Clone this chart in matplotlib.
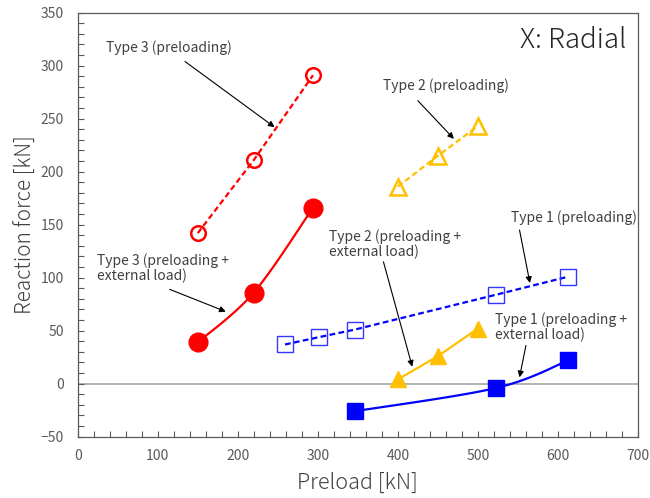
import numpy as np
import matplotlib
matplotlib.use("Agg")
import matplotlib.pyplot as plt
from matplotlib.ticker import MultipleLocator

plt.rcParams['font.family'] = ['Noto Sans CJK JP', 'DejaVu Sans']

# Type 3
t3_x = [150, 220, 294]
t3_pre = [142, 211, 291]
t3_ext_x = [150, 220, 294]
t3_ext = [39, 86, 166]

# Type 2
t2_x = [400, 450, 500]
t2_pre = [186, 215, 243]
t2_ext = [4, 26, 52]

# Type 1
t1_pre_x = [259, 302, 346, 523, 613]
t1_pre = [37, 44, 51, 84, 101]
t1_ext_x = [346, 523, 613]
t1_ext = [-26, -4, 22]

RED = "#FF0000"
GOLD = "#FFC000"
BLUE = "#0000FF"
TXT = "#404040"


def smooth(xs, ys, n=40):
    """Catmull-Rom style Bezier smoothing through the given points."""
    p = np.column_stack([xs, ys]).astype(float)
    pts = [p[0]]
    for i in range(len(p) - 1):
        p0 = p[i - 1] if i > 0 else p[i]
        p1, p2 = p[i], p[i + 1]
        p3 = p[i + 2] if i + 2 < len(p) else p[i + 1]
        c1 = p1 + (p2 - p0) / 6.0
        c2 = p2 - (p3 - p1) / 6.0
        t = np.linspace(0, 1, n)[1:, None]
        seg = ((1 - t) ** 3) * p1 + 3 * ((1 - t) ** 2) * t * c1 \
            + 3 * (1 - t) * t ** 2 * c2 + t ** 3 * p2
        pts.extend(seg)
    pts = np.array(pts)
    return pts[:, 0], pts[:, 1]


fig = plt.figure(figsize=(6.5, 4.98), dpi=100)
ax = fig.add_axes([0.1195, 0.1231, 0.8620, 0.8514])

ax.axhline(0, color="#A6A6A6", lw=1.2, zorder=1)

dash = (2.6, 1.5)
lw = 1.6

# Type 3
ax.plot(t3_x, t3_pre, color=RED, lw=lw, dashes=dash, zorder=2)
ax.plot(t3_x, t3_pre, ls="none", marker="o", ms=10.5, mfc="none",
        mec=RED, mew=1.8, zorder=3)
sx, sy = smooth(t3_ext_x, t3_ext)
ax.plot(sx, sy, color=RED, lw=lw, zorder=2)
ax.plot(t3_ext_x, t3_ext, ls="none", marker="o", ms=13.5, color=RED, zorder=3)

# Type 2
ax.plot(t2_x, t2_pre, color=GOLD, lw=lw, dashes=dash, zorder=2)
ax.plot(t2_x, t2_pre, ls="none", marker="^", ms=11, mfc="none",
        mec=GOLD, mew=1.8, zorder=3)
ax.plot(t2_x, t2_ext, color=GOLD, lw=lw, zorder=2)
ax.plot(t2_x, t2_ext, ls="none", marker="^", ms=12, color=GOLD, zorder=3)

# Type 1
ax.plot(t1_pre_x, t1_pre, color=BLUE, lw=lw, dashes=dash, zorder=2)
ax.plot(t1_pre_x, t1_pre, ls="none", marker="s", ms=11.5, mfc="none",
        mec="#3535FF", mew=1.0, zorder=3)
sx, sy = smooth(t1_ext_x, t1_ext)
ax.plot(sx, sy, color=BLUE, lw=lw, zorder=2)
ax.plot(t1_ext_x, t1_ext, ls="none", marker="s", ms=11.5, color=BLUE, zorder=3)

# Annotations
notes = [
    ("Type 3 (preloading)", (35, 317), (134, 304), (246, 242)),
    ("Type 2 (preloading)", (381, 281), (425, 267), (470, 231)),
    ("Type 1 (preloading)", (541, 157), (552, 145), (565, 95)),
    ("Type 2 (preloading +\nexternal load)", (314, 132), (382, 115), (418, 16)),
    ("Type 1 (preloading +\nexternal load)", (521, 53), (560, 36), (552, 6)),
    ("Type 3 (preloading +\nexternal load)", (24, 109), (115, 89), (185, 68)),
]
for text, tpos, start, end in notes:
    ax.text(tpos[0], tpos[1], text, fontsize=10, color=TXT,
            ha="left", va="center", linespacing=1.05, zorder=5)
    ax.annotate("", xy=end, xytext=start,
                arrowprops=dict(arrowstyle="-|>", color="black", lw=0.8,
                                mutation_scale=9, shrinkA=0, shrinkB=0),
                zorder=5)

ax.text(685, 324, "X: Radial", fontsize=20, color="#262626",
        ha="right", va="center", fontweight="light")

ax.set_xlim(0, 700)
ax.set_ylim(-50, 350)
ax.xaxis.set_major_locator(MultipleLocator(100))
ax.xaxis.set_minor_locator(MultipleLocator(20))
ax.yaxis.set_major_locator(MultipleLocator(50))
ax.yaxis.set_minor_locator(MultipleLocator(10))
ax.tick_params(which="both", direction="in", length=4, width=0.8,
               color="#595959", labelcolor="#595959", labelsize=10)
ax.tick_params(axis="y", pad=10)
ax.tick_params(axis="x", pad=9)
for s in ax.spines.values():
    s.set_color("#595959")
    s.set_linewidth(0.9)

ax.set_xlabel("Preload [kN]", fontsize=15.5, color=TXT, labelpad=6,
              fontweight="light")
ax.set_ylabel("Reaction force [kN]", fontsize=15, color=TXT, labelpad=3,
              fontweight="light")

fig.savefig("out.png", dpi=100)
